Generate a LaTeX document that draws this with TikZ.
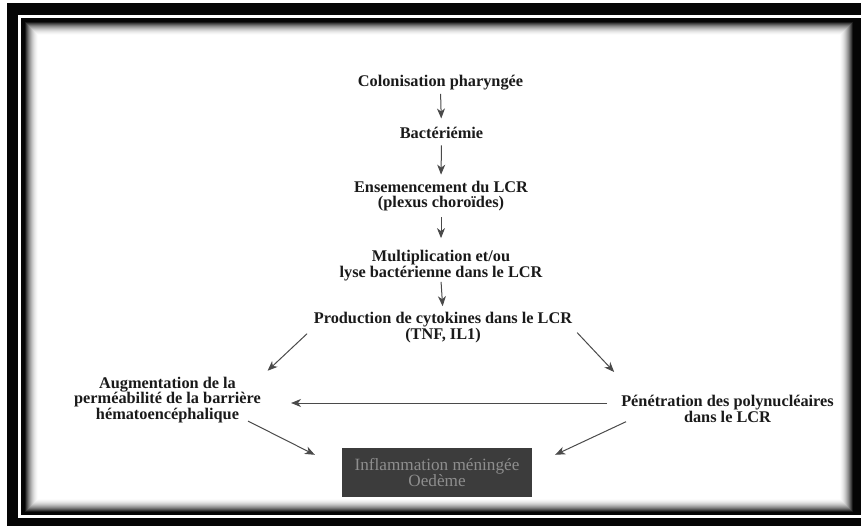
\documentclass[tikz,border=0pt]{standalone}
\usepackage{fontspec}
\setmainfont{Liberation Serif}
\usetikzlibrary{positioning,arrows.meta,calc}
\definecolor{frameInk}{HTML}{050505}
\definecolor{arrowInk}{HTML}{4A4A4A}
\definecolor{boxFill}{HTML}{3C3C3C}
\definecolor{boxText}{HTML}{8E8E8E}
\definecolor{textPrimary}{HTML}{1A1A1A}
\tikzset{
  flow/.style ={draw=arrowInk,line width=1pt,
                -{Stealth[length=10pt,width=8pt,inset=3pt]}},
  stage/.style={font=\bfseries\fontsize{16.3}{15.5}\selectfont,
                text=textPrimary,align=center,inner sep=0pt},
}
\begin{document}
\begin{tikzpicture}[x=1pt,y=-1pt,
          outcome/.style={fill=boxFill,draw=none,text=boxText,
                          minimum width=190pt,minimum height=49pt,
                          inner sep=0pt,align=center,
                          font=\fontsize{17.2}{15}\selectfont},
        ]
        \useasboundingbox (0,0) rectangle (861,526);
        % frame
        \fill[white] (0,0) rectangle (861,526);
        \fill[frameInk] (7,3) rectangle (861,526);
        \fill[white] (18,15) rectangle (870,518);
        \fill[frameInk] (21,18) rectangle (870,515);
        \fill[white] (25,22) rectangle (853,512);
        \foreach \i in {0,...,13}{
          \pgfmathtruncatemacro\shade{90*(1-\i/14)^2}
          \draw[black!\shade,line width=1pt]
                (25.5+\i,22.5+\i) rectangle (852.5-\i,511.5-\i);
        }
        % stages
        \node[stage,anchor=base] (col) at (440.5,87) {Colonisation pharyngée};
        \node[stage,anchor=base] (bac) at (441.5,139) {Bactériémie};
        \node[stage] (ens)  at (441,196)   {Ensemencement du LCR\\(plexus choroïdes)};
        \node[stage] (mul)  at (441,265.5) {Multiplication et/ou\\lyse bactérienne dans le LCR};
        \node[stage] (prod) at (443,327.5) {Production de cytokines dans le LCR\\(TNF, IL1)};
        \node[stage] (aug)  at (167.5,400) {Augmentation de la\\perméabilité de la barrière\\hématoencéphalique};
        \node[stage] (pen)  at (727.5,409) {Pénétration des polynucléaires\\dans le LCR};
        \node[outcome] (box) at (437,472.5) {Inflammation méningée\\Oedème};
        \foreach \a/\b/\s/\e in {col/bac/3/9,bac/ens/6/6,ens/mul/6/12,mul/prod/1/6}
          \draw[flow,shorten <=\s pt,shorten >=\e pt] (\a.south) -- (\b.north);
        \draw[flow,shorten <=9pt,shorten >=9pt] (prod.west) -- (aug.north east);
        \draw[flow,shorten <=7pt,shorten >=32pt] (prod.east) -- ([xshift=15pt]pen.north west);
        \draw[flow,shorten <=14pt,shorten >=30pt] ([yshift=6pt]pen.west) -- ([yshift=-3pt]aug.east);
        \draw[flow] ([xshift=-13pt,yshift=2pt]aug.south east) -- ([xshift=-27pt,yshift=-7pt]box.north west);
        \draw[flow] ([xshift=5pt,yshift=1pt]pen.south west) -- ([xshift=23pt,yshift=-7pt]box.north east);
      \end{tikzpicture}
\end{document}
